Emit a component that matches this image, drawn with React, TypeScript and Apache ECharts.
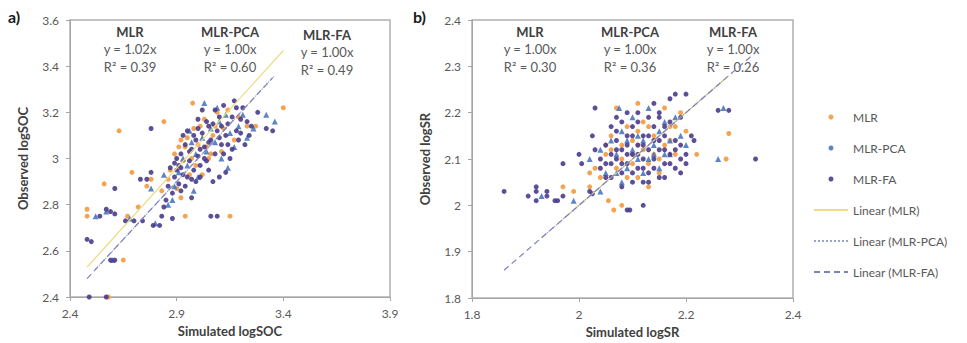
import React, { useEffect, useRef } from "react";
import * as echarts from "echarts";

// ---- Panel a: logSOC (simulated x, observed y) ----
const socMLR: number[][] = [
  [2.48, 2.78], [2.48, 2.75], [2.56, 2.89], [2.63, 3.12], [2.67, 2.75], [2.69, 2.94], [2.72, 2.79],
  [2.76, 2.88], [2.78, 2.91], [2.65, 2.56], [2.84, 3.16], [2.92, 2.83], [2.94, 2.75], [2.975, 3.24],
  [3.15, 2.75], [3.40, 3.22], [3.23, 3.14], [3.27, 3.14], [3.04, 3.05], [2.87, 2.95], [2.89, 3.02],
  [2.91, 3.05], [2.93, 2.99], [2.95, 3.09], [2.96, 2.93], [2.98, 3.13], [3.00, 3.06], [3.02, 2.93],
  [3.03, 3.17], [3.05, 3.00], [3.07, 3.10], [3.09, 3.20], [3.11, 3.03], [3.12, 3.13], [3.14, 3.21],
  [3.17, 3.08], [3.19, 3.18], [2.86, 2.91], [2.90, 2.87], [2.94, 3.05], [2.58, 2.40], [2.83, 2.86],
  [2.97, 3.00], [3.01, 3.14], [3.06, 3.02], [2.92, 3.08], [2.99, 2.97], [3.08, 3.14],
];
const socPCA: number[][] = [
  [2.52, 2.75], [2.60, 2.56], [2.68, 2.74], [2.80, 2.72], [2.86, 2.80], [2.89, 2.88], [2.91, 2.94],
  [2.93, 3.00], [2.95, 2.97], [2.97, 3.07], [2.99, 3.02], [3.00, 2.92], [3.02, 3.09], [3.04, 3.03],
  [3.06, 3.13], [3.08, 3.07], [3.10, 3.16], [3.11, 3.00], [3.13, 3.19], [3.15, 3.11], [3.17, 3.05],
  [3.19, 3.14], [3.21, 3.19], [3.23, 3.09], [3.32, 3.19], [3.36, 3.16], [2.88, 2.82], [2.98, 2.86],
  [3.03, 3.24], [3.09, 3.22], [2.84, 2.93], [2.78, 2.87], [2.96, 3.12], [3.14, 2.96], [2.57, 2.77],
  [3.26, 3.13],
];
const socFA: number[][] = [
  [2.48, 2.65], [2.50, 2.64], [2.49, 2.40], [2.54, 2.75], [2.57, 2.78], [2.59, 2.77], [2.61, 2.76],
  [2.59, 2.56], [2.61, 2.56], [2.61, 2.87], [2.66, 2.73], [2.70, 2.73], [2.74, 2.73], [2.78, 3.13],
  [2.73, 2.91], [2.76, 2.91], [2.78, 2.94], [2.79, 2.71], [2.82, 2.71], [2.83, 2.75], [2.84, 2.79],
  [2.85, 2.82], [2.88, 2.74], [2.88, 2.85], [2.86, 2.88], [2.89, 2.92], [2.91, 2.89], [2.92, 2.96],
  [2.94, 2.88], [2.95, 2.92], [2.96, 2.99], [2.97, 3.04], [2.98, 2.95], [2.99, 3.08], [3.00, 3.01],
  [3.01, 2.97], [3.02, 3.11], [3.02, 3.21], [3.03, 3.05], [3.04, 2.99], [3.05, 3.14], [3.06, 3.08],
  [3.06, 2.75], [3.09, 2.75], [3.07, 2.90], [3.10, 2.92], [3.08, 3.02], [3.09, 3.12], [3.10, 3.18],
  [3.11, 3.06], [3.12, 3.23], [3.13, 2.94], [3.13, 3.10], [3.14, 3.15], [3.15, 3.00], [3.16, 3.04],
  [3.17, 3.25], [3.18, 3.12], [3.19, 3.08], [3.20, 3.17], [3.21, 3.22], [3.22, 3.06], [3.24, 3.10],
  [3.25, 3.14], [3.28, 3.20], [3.32, 3.13], [3.35, 3.12], [2.93, 3.10], [2.90, 3.00], [2.87, 2.96],
  [2.95, 3.12], [3.00, 3.17], [2.92, 2.86], [2.97, 2.83], [2.99, 2.90], [2.57, 2.40],
  [2.90, 2.95], [2.92, 3.02], [2.94, 3.06], [2.96, 3.03], [2.98, 3.10], [3.00, 3.13], [3.01, 3.04],
  [3.03, 3.00], [3.04, 3.16], [3.05, 3.07], [3.07, 3.15], [3.08, 3.21], [3.10, 3.09], [3.11, 3.14],
  [3.12, 3.02], [3.14, 3.06], [3.16, 3.18], [3.18, 3.22], [3.20, 3.11], [3.23, 3.16], [2.93, 2.93],
  [2.97, 2.91], [3.01, 2.92], [3.05, 2.95], [2.89, 2.98], [2.91, 2.97],
];

// ---- Panel b: logSR ----
const srMLR: number[][] = [
  [1.97, 2.04], [1.99, 2.03], [2.055, 2.01], [2.065, 1.99], [2.08, 2.0], [2.11, 2.22], [2.22, 2.11],
  [2.28, 2.155], [2.275, 2.10], [2.04, 2.06], [2.05, 2.11], [2.06, 2.15], [2.07, 2.08], [2.08, 2.13],
  [2.09, 2.17], [2.10, 2.09], [2.10, 2.14], [2.11, 2.06], [2.12, 2.12], [2.12, 2.18], [2.13, 2.09],
  [2.14, 2.15], [2.15, 2.10], [2.16, 2.13], [2.17, 2.17], [2.18, 2.11], [2.19, 2.20], [2.03, 2.08],
  [2.07, 2.21], [2.13, 2.04], [2.16, 2.21], [2.20, 2.16], [2.09, 2.06], [2.11, 2.16], [2.14, 2.11],
  [2.06, 2.12], [2.02, 2.04], [2.18, 2.17], [2.05, 2.13], [2.08, 2.10], [2.11, 2.13], [2.13, 2.17],
  [2.15, 2.07], [2.17, 2.14], [2.10, 2.11], [2.02, 2.07],
];
const srPCA: number[][] = [
  [1.99, 2.01], [2.04, 2.03], [2.075, 2.21], [2.26, 2.10], [1.93, 2.02], [2.02, 2.10], [2.05, 2.07],
  [2.06, 2.14], [2.07, 2.11], [2.08, 2.16], [2.09, 2.08], [2.10, 2.12], [2.10, 2.19], [2.11, 2.10],
  [2.12, 2.14], [2.13, 2.21], [2.13, 2.10], [2.14, 2.13], [2.15, 2.08], [2.15, 2.16], [2.16, 2.11],
  [2.17, 2.14], [2.18, 2.19], [2.19, 2.15], [2.20, 2.13], [2.08, 2.05], [2.04, 2.12], [2.12, 2.07],
  [2.16, 2.18], [2.27, 2.21], [2.07, 2.07], [2.11, 2.15], [2.14, 2.11], [2.17, 2.11], [2.09, 2.14],
];
const srFA: number[][] = [
  [1.86, 2.03], [1.92, 2.04], [1.92, 2.03], [1.905, 2.02], [1.92, 2.01], [1.94, 2.02], [1.94, 2.03],
  [1.955, 2.01], [1.96, 2.01], [1.97, 2.02], [1.97, 2.09], [2.0, 2.11], [2.005, 2.09], [2.02, 2.03],
  [2.025, 2.025], [2.025, 2.15], [2.03, 2.21], [2.09, 1.99], [2.095, 1.99], [2.12, 2.0], [2.14, 2.22],
  [2.17, 2.23], [2.18, 2.24], [2.20, 2.24], [2.19, 2.19], [2.21, 2.15], [2.215, 2.14], [2.20, 2.11],
  [2.26, 2.205], [2.33, 2.10], [2.18, 2.08], [2.04, 2.08], [2.05, 2.13], [2.06, 2.06], [2.06, 2.17],
  [2.07, 2.10], [2.07, 2.19], [2.08, 2.12], [2.08, 2.07], [2.09, 2.15], [2.09, 2.09], [2.10, 2.11],
  [2.10, 2.05], [2.10, 2.17], [2.11, 2.13], [2.11, 2.08], [2.12, 2.10], [2.12, 2.15], [2.13, 2.07],
  [2.13, 2.12], [2.13, 2.19], [2.14, 2.10], [2.14, 2.14], [2.15, 2.06], [2.15, 2.12], [2.15, 2.20],
  [2.16, 2.09], [2.16, 2.15], [2.17, 2.11], [2.17, 2.18], [2.18, 2.14], [2.19, 2.07], [2.08, 2.04],
  [2.05, 2.09], [2.03, 2.12], [2.07, 2.14], [2.11, 2.20], [2.12, 2.05], [2.16, 2.06], [2.09, 2.11],
  [2.06, 2.11], [2.14, 2.17], [2.28, 2.205], [2.06, 2.09], [2.07, 2.12], [2.08, 2.09], [2.09, 2.13],
  [2.10, 2.07], [2.10, 2.15], [2.11, 2.11], [2.12, 2.13], [2.12, 2.08], [2.13, 2.15], [2.14, 2.08],
  [2.15, 2.14], [2.16, 2.17], [2.17, 2.09], [2.18, 2.12], [2.19, 2.10], [2.13, 2.05], [2.11, 2.18],
  [2.07, 2.16], [2.05, 2.06], [2.04, 2.10], [2.08, 2.18], [2.15, 2.19], [2.19, 2.13], [2.20, 2.09],
  [2.09, 2.20], [2.16, 2.12],
];

// Model names and fitted trendline statistics (y = slope * x)
const models = ["MLR", "MLR-PCA", "MLR-FA"];
const socSlopes = [1.02, 1.0, 1.0];
const socR2 = [0.39, 0.6, 0.49];
const srSlopes = [1.0, 1.0, 1.0];
const srR2 = [0.3, 0.36, 0.26];

// Axis ticks
const socXTicks = [2.4, 2.9, 3.4, 3.9];
const socYTicks = [2.4, 2.6, 2.8, 3.0, 3.2, 3.4, 3.6];
const srXTicks = [1.8, 2.0, 2.2, 2.4];
const srYTicks = [1.8, 1.9, 2.0, 2.1, 2.2, 2.3, 2.4];

const FONT = "Lato, 'Open Sans', sans-serif";
const markerColors = ["#F39A3E", "#4A78BE", "#4A3B8C"];
const markerSymbols = ["circle", "triangle", "circle"];
const markerSizes = [5, 6, 5];
const trendStyles = [
  { color: "#EEDC84", type: "solid" as const, width: 1.3 },
  { color: "#9AA4C4", type: "dotted" as const, width: 1.2 },
  { color: "#7E82BC", type: [6, 4] as number[], width: 1.2 },
];

function trend(points: number[][], slope: number): number[][] {
  const xs = points.map((p) => p[0]);
  const lo = Math.min(...xs);
  const hi = Math.max(...xs);
  return [
    [lo, slope * lo],
    [hi, slope * hi],
  ];
}

function fmt(v: number): string {
  return String(+v.toFixed(2));
}

function axisPair(gridIndex: number, xt: number[], yt: number[], xName: string, yName: string) {
  const common = {
    gridIndex,
    splitLine: { show: false },
    axisLine: { show: true, lineStyle: { color: "#A6A6A6", width: 1 } },
    axisTick: { show: true, inside: false, length: 4, lineStyle: { color: "#A6A6A6" } },
    axisLabel: { color: "#595959", fontSize: 12, fontFamily: FONT, formatter: fmt },
    nameTextStyle: { color: "#404040", fontSize: 13, fontWeight: "bold" as const, fontFamily: FONT },
    nameLocation: "middle" as const,
  };
  const x = {
    ...common,
    type: "value" as const,
    min: xt[0],
    max: xt[xt.length - 1],
    interval: +(xt[1] - xt[0]).toFixed(3),
    name: xName,
    nameGap: 27,
    axisLabel: { ...common.axisLabel, margin: 10 },
  };
  const y = {
    ...common,
    type: "value" as const,
    min: yt[0],
    max: yt[yt.length - 1],
    interval: +(yt[1] - yt[0]).toFixed(3),
    name: yName,
    nameGap: 41,
    axisLabel: { ...common.axisLabel, margin: 11 },
  };
  return { x, y };
}

function panelSeries(idx: number, sets: number[][][], slopes: number[]) {
  const scat = sets.map((d, i) => ({
    type: "scatter" as const,
    name: models[i],
    xAxisIndex: idx,
    yAxisIndex: idx,
    data: d,
    symbol: markerSymbols[i],
    symbolSize: markerSizes[i],
    itemStyle: { color: markerColors[i], opacity: 0.9 },
    z: 3,
  }));
  const lines = sets.map((d, i) => ({
    type: "line" as const,
    name: `Linear (${models[i]})`,
    xAxisIndex: idx,
    yAxisIndex: idx,
    data: trend(d, slopes[i]),
    symbol: "none",
    lineStyle: trendStyles[i],
    itemStyle: { color: trendStyles[i].color },
    z: 4,
    silent: true,
  }));
  return [...scat, ...lines];
}

function statTexts(centers: number[], tops: number[], slopes: number[], r2: number[]) {
  const out: any[] = [];
  models.forEach((m, i) => {
    const y0 = tops[i];
    out.push({
      type: "text",
      x: centers[i],
      y: y0,
      style: { text: m, fill: "#404040", font: `bold 13px ${FONT}`, textAlign: "center", textVerticalAlign: "middle" },
    });
    out.push({
      type: "text",
      x: centers[i],
      y: y0 + 17,
      style: { text: `y = ${slopes[i].toFixed(2)}x`, fill: "#595959", font: `13px ${FONT}`, textAlign: "center", textVerticalAlign: "middle" },
    });
    out.push({
      type: "text",
      x: centers[i],
      y: y0 + 35,
      style: { text: `R² = ${r2[i].toFixed(2)}`, fill: "#595959", font: `13px ${FONT}`, textAlign: "center", textVerticalAlign: "middle" },
    });
  });
  return out;
}

export default function App() {
  const ref = useRef<HTMLDivElement>(null);

  useEffect(() => {
    if (!ref.current) return;
    const chart = echarts.init(ref.current, undefined, { renderer: "svg" });
    const a = axisPair(0, socXTicks, socYTicks, "Simulated logSOC", "Observed logSOC");
    const b = axisPair(1, srXTicks, srYTicks, "Simulated logSR", "Observed logSR");

    const hiddenSymbol = { color: "rgba(0,0,0,0)", borderWidth: 0 };

    chart.setOption({
      animation: false,
      backgroundColor: "#ffffff",
      grid: [
        { left: 70, top: 20, width: 320, height: 277, show: true, borderColor: "#B0B0B0", borderWidth: 1.5, backgroundColor: "transparent" },
        { left: 472, top: 20, width: 321, height: 278, show: true, borderColor: "#B0B0B0", borderWidth: 1.5, backgroundColor: "transparent" },
      ],
      xAxis: [a.x, b.x],
      yAxis: [a.y, b.y],
      legend: {
        orient: "vertical",
        left: 808,
        top: 106,
        itemWidth: 34,
        itemHeight: 5,
        itemGap: 19,
        textStyle: { color: "#595959", fontSize: 12, fontFamily: FONT },
        data: [
          ...models.map((m) => ({ name: m, icon: "circle" })),
          ...models.map((m) => ({ name: `Linear (${m})`, itemStyle: hiddenSymbol })),
        ],
      },
      graphic: [
        { type: "text", x: 8, y: 16, style: { text: "a)", fill: "#1a1a1a", font: `bold 16px ${FONT}`, textVerticalAlign: "middle" } },
        { type: "text", x: 413, y: 16, style: { text: "b)", fill: "#1a1a1a", font: `bold 16px ${FONT}`, textVerticalAlign: "middle" } },
        ...statTexts([130, 230, 327], [32, 32, 35], socSlopes, socR2),
        ...statTexts([530, 630, 733], [32, 32, 32], srSlopes, srR2),
      ],
      series: [...panelSeries(0, [socMLR, socPCA, socFA], socSlopes), ...panelSeries(1, [srMLR, srPCA, srFA], srSlopes)],
    });

    return () => chart.dispose();
  }, []);

  return <div ref={ref} style={{ position: "fixed", left: 0, top: 0, width: 967, height: 343, background: "#fff" }} />;
}
